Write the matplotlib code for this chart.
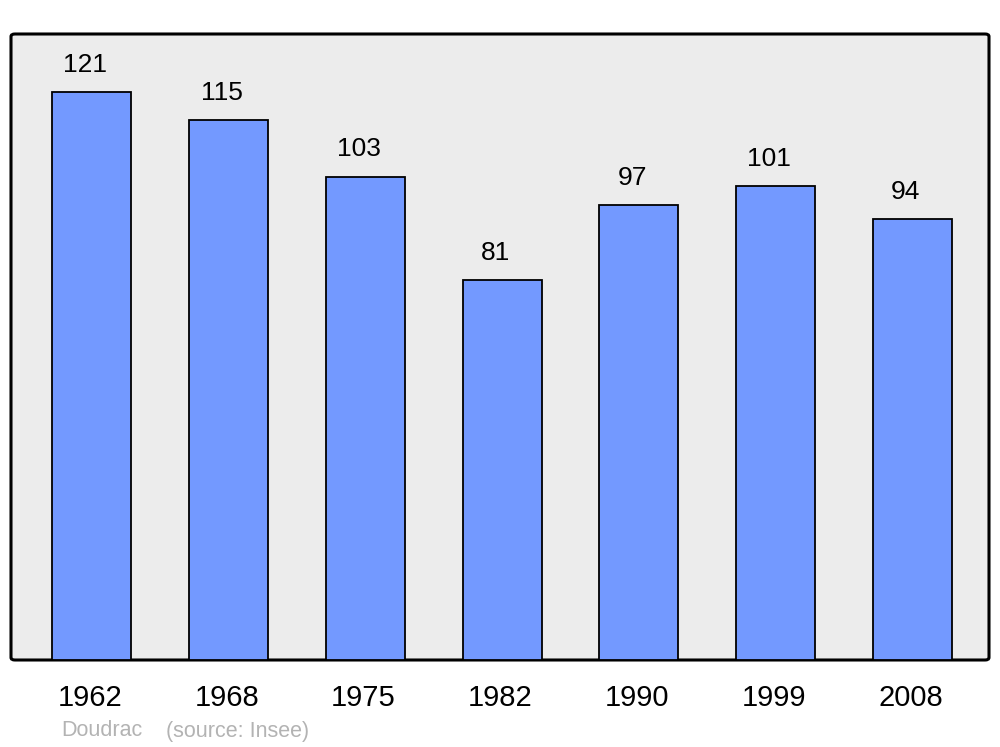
import matplotlib
matplotlib.use("Agg")
import matplotlib.pyplot as plt
import matplotlib.transforms as mtransforms
from matplotlib.patches import FancyBboxPatch

years = ["1962", "1968", "1975", "1982", "1990", "1999", "2008"]
population = [121, 115, 103, 81, 97, 101, 94]
commune = "Doudrac"
source = "(source: Insee)"

plt.rcParams['font.family'] = ['Liberation Sans', 'DejaVu Sans']

fig = plt.figure(figsize=(10, 7.47), dpi=100)
ax = fig.add_axes([0.011, 87/747, 0.978, 626/747])
ax.set_xlim(-0.592, 6.56)
ax.set_ylim(0, 133.4)
ax.patch.set_visible(False)
for s in ax.spines.values():
    s.set_visible(False)

frame = FancyBboxPatch((0, 0), 1, 1, boxstyle="round,pad=0,rounding_size=0.004",
                       transform=ax.transAxes, facecolor="#ECECEC", edgecolor="black",
                       linewidth=2.2, zorder=0, clip_on=False)
ax.add_patch(frame)

x = list(range(len(years)))
bars = ax.bar(x, population, width=0.578, color="#7399FF", edgecolor="black",
              linewidth=1.3, zorder=2)
for xi, v in zip(x, population):
    ax.annotate(str(v), (xi, v), xytext=(-4.8, 11), textcoords="offset points",
                ha="center", va="bottom", fontsize=19)

ax.set_xticks(x)
ax.set_xticklabels(years, fontsize=21)
ax.tick_params(axis="x", length=0, pad=17)
ax.set_yticks([])
shift = mtransforms.ScaledTranslation(-2/100, 0, fig.dpi_scale_trans)
for lbl in ax.get_xticklabels():
    lbl.set_transform(lbl.get_transform() + shift)

fig.text(61/1000, 1 - 731/747, commune, fontsize=15.5, color="#B3B3B3", va="center", ha="left")
fig.text(166/1000, 1 - 731/747, source, fontsize=15.5, color="#B3B3B3", va="center", ha="left")

fig.savefig("out.png", dpi=100)
